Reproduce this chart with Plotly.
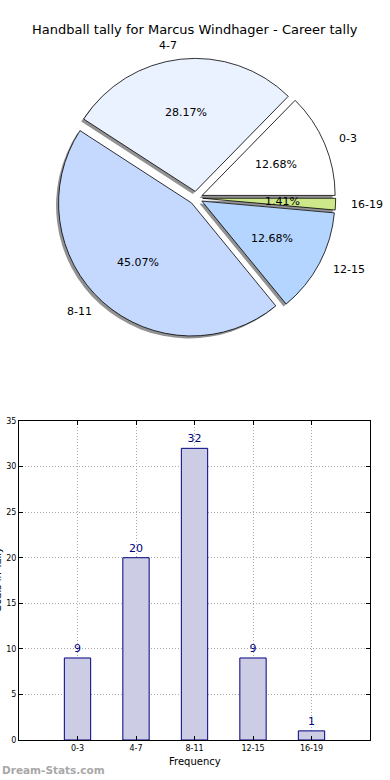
import math
import plotly.graph_objects as go

# ---- data ----
title_text = "Handball tally for Marcus Windhager - Career tally"
categories = ["0-3", "4-7", "8-11", "12-15", "16-19"]
tally = [9, 20, 32, 9, 1]
pie_colors = ["#ffffff", "#eaf1ff", "#c5d9ff", "#b3d5ff", "#cce888"]
x_title = "Frequency"
y_title = "Goals in Tally"
watermark = "Dream-Stats.com"

W, H = 390, 780
FONT = "DejaVu Sans"

def px(x):
    return x / W

def py(y):
    return 1 - y / H

# pie geometry (pixels)
cx, cy, r, pull = 196, 198, 133, 0.05
half = r * (1 + pull)
dom_x = [px(cx - half), px(cx + half)]
dom_y = [py(cy + half), py(cy - half)]
sh_dx, sh_dy = -2.5, 2.5

# slices listed clockwise from 3 o'clock (same as matplotlib counter-clockwise from east)
cw_labels = categories[::-1]
cw_values = tally[::-1]
cw_colors = pie_colors[::-1]

fig = go.Figure()

# shadow pie
fig.add_trace(go.Pie(
    labels=cw_labels, values=cw_values, sort=False, direction="clockwise",
    rotation=90, pull=[pull] * len(tally), textinfo="none", hoverinfo="skip",
    marker=dict(colors=["rgba(110,110,110,0.75)"] * len(tally), line=dict(width=0)),
    domain=dict(x=[dom_x[0] + sh_dx / W, dom_x[1] + sh_dx / W],
                y=[dom_y[0] - sh_dy / H, dom_y[1] - sh_dy / H]),
    showlegend=False,
))

# main pie
fig.add_trace(go.Pie(
    labels=cw_labels, values=cw_values, sort=False, direction="clockwise",
    rotation=90, pull=[pull] * len(tally), textinfo="none",
    marker=dict(colors=cw_colors, line=dict(color="black", width=0.8)),
    domain=dict(x=dom_x, y=dom_y), showlegend=False,
))

annotations = []
total = sum(tally)
cum = 0
for lab, v in zip(categories, tally):
    frac = v / total
    theta = math.radians(360 * (cum + frac / 2))
    cum += frac
    c, s = math.cos(theta), math.sin(theta)
    # percentage text
    tx = cx + (pull + 0.6) * r * c
    ty = cy - (pull + 0.6) * r * s
    annotations.append(dict(x=px(tx), y=py(ty), xref="paper", yref="paper",
                            text="%.2f%%" % (100 * frac), showarrow=False,
                            xanchor="center", yanchor="middle",
                            font=dict(family=FONT, size=11, color="black")))
    # outside label
    lx = cx + (pull + 1.1) * r * c
    ly = cy - (pull + 1.1) * r * s
    annotations.append(dict(x=px(lx), y=py(ly), xref="paper", yref="paper",
                            text=lab, showarrow=False,
                            xanchor="left" if c > 0 else "right", yanchor="middle",
                            font=dict(family=FONT, size=11, color="black")))

# bar chart
fig.add_trace(go.Bar(
    x=categories, y=tally, width=0.45,
    marker=dict(color="#ccccE4", line=dict(color="#000080", width=1)),
    text=[str(v) for v in tally], textposition="outside", cliponaxis=False,
    textfont=dict(family=FONT, size=11, color="#000080"),
    xaxis="x", yaxis="y", showlegend=False,
))

annotations.append(dict(x=px(195), y=py(30), xref="paper", yref="paper",
                        text=title_text, showarrow=False,
                        xanchor="center", yanchor="middle",
                        font=dict(family=FONT, size=13, color="black")))
annotations.append(dict(x=px(194.5), y=py(761), xref="paper", yref="paper",
                        text=x_title, showarrow=False,
                        xanchor="center", yanchor="middle",
                        font=dict(family=FONT, size=10, color="black")))
annotations.append(dict(x=px(4), y=py(580), xref="paper", yref="paper",
                        text=y_title, showarrow=False, textangle=-90,
                        xanchor="right", yanchor="middle",
                        font=dict(family=FONT, size=10, color="black")))
annotations.append(dict(x=px(0), y=py(770), xref="paper", yref="paper",
                        text="<b>" + watermark + "</b>", showarrow=False,
                        xanchor="left", yanchor="middle",
                        font=dict(family=FONT, size=10.5, color="#a8a8a8")))

fig.update_layout(
    width=W, height=H, margin=dict(l=0, r=0, t=0, b=0, autoexpand=False),
    paper_bgcolor="white", plot_bgcolor="white",
    font=dict(family=FONT, color="black"),
    annotations=annotations,
    xaxis=dict(domain=[px(19), px(370)], anchor="y", type="category",
               range=[-1, 5], showline=True, linecolor="black", linewidth=1,
               mirror="ticks", ticks="inside", ticklen=4, tickcolor="black",
               showgrid=True, gridcolor="#a8a8a8", griddash="1px,2px", gridwidth=1,
               tickfont=dict(size=8, family=FONT), automargin=False),
    yaxis=dict(domain=[py(740), py(421)], anchor="x", range=[0, 35], dtick=5,
               showline=True, linecolor="black", linewidth=1,
               mirror="ticks", ticks="inside", ticklen=4, tickcolor="black",
               showgrid=True, gridcolor="#a8a8a8", griddash="1px,2px", gridwidth=1,
               zeroline=False, tickfont=dict(size=8, family=FONT), automargin=False),
)

fig.write_html("out.html", config={"displayModeBar": False},
               post_script="document.body.style.margin='0px';document.body.style.overflow='hidden';")
